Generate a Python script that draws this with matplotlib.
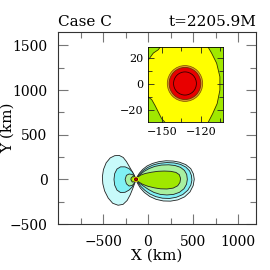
import matplotlib
matplotlib.use('Agg')
import matplotlib.pyplot as plt
from matplotlib.patches import Circle, Polygon

plt.rcParams['font.family'] = ['DejaVu Serif', 'DejaVu Sans']

title_left = "Case C"
title_right = "t=2205.9M"
x_label = "X (km)"
y_label = "Y (km)"

# colours of the filled contour levels (outer -> inner)
level_colors = ['#c8fafa', '#80f0f4', '#a8f0a0', '#a0e800']
yellow = '#ffff00'
orange = '#e0a030'
red = '#e80000'

# main panel ticks
x_major = [-500, 0, 500, 1000]
x_minor = [-750, -250, 250, 750]
y_major = [-500, 0, 500, 1000, 1500]
y_minor = [-250, 250, 750, 1250]
x_range = [-1000, 1200]
y_range = [-500, 1650]

# contour outlines (km), right lobe, outer -> inner
right_l1 = [(-135, 0), (-120, 30), (-95, 70), (-60, 110), (-10, 150), (50, 178), (120, 198), (200, 208),
            (280, 205), (350, 192), (420, 165), (475, 120), (505, 60), (514, 0), (502, -70), (467, -140),
            (407, -196), (332, -230), (250, -244), (170, -242), (90, -224), (20, -192), (-40, -147),
            (-85, -97), (-115, -47)]
right_l2 = [(-135, 0), (-118, 28), (-92, 62), (-55, 98), (0, 135), (60, 162), (130, 180), (210, 188),
            (290, 184), (360, 168), (420, 138), (462, 95), (482, 45), (488, -10), (476, -65), (442, -122),
            (387, -170), (317, -200), (240, -214), (160, -211), (85, -193), (20, -163), (-35, -123),
            (-80, -79), (-112, -38)]
right_l3 = [(-135, 0), (-115, 25), (-85, 55), (-45, 88), (10, 120), (75, 145), (150, 160), (230, 163),
            (300, 155), (360, 135), (405, 100), (430, 55), (437, 0), (428, -55), (400, -105), (350, -145),
            (285, -168), (210, -175), (135, -168), (65, -146), (5, -113), (-50, -76), (-95, -43), (-120, -18)]
right_l4 = [(-135, 0), (-115, 25), (-80, 48), (-30, 66), (40, 80), (110, 90), (180, 93), (250, 90),
            (310, 78), (348, 52), (362, 10), (355, -35), (330, -72), (280, -98), (210, -108), (140, -106),
            (70, -95), (0, -78), (-60, -55), (-105, -28)]

# left lobe, outer -> inner
left_l1 = [(-135, 0), (-160, 60), (-200, 130), (-240, 200), (-275, 245), (-320, 268), (-370, 265),
           (-420, 240), (-465, 185), (-495, 110), (-507, 30), (-502, -50), (-482, -130), (-442, -210),
           (-392, -268), (-332, -290), (-277, -280), (-232, -237), (-197, -172), (-167, -97), (-147, -42)]
left_l2 = [(-135, 0), (-150, 40), (-175, 85), (-210, 120), (-255, 140), (-305, 140), (-345, 115),
           (-370, 65), (-378, 0), (-370, -65), (-345, -120), (-305, -148), (-255, -145), (-210, -120),
           (-175, -85), (-150, -40)]
left_l3 = [(-135, 0), (-150, 35), (-175, 55), (-210, 60), (-240, 45), (-254, 0), (-240, -50),
           (-210, -75), (-175, -68), (-150, -40)]
left_l4 = [(-135, 0), (-150, 25), (-170, 32), (-188, 15), (-190, -5), (-175, -30), (-152, -28)]

center = (-133, 0)
center_dot_radius = 16

# inset
inset_x_range = [-160.8, -103]
inset_y_range = [-29, 28]
inset_x_major = [-150, -120]
inset_x_minor = [-135, -105]
inset_y_major = [-20, 0, 20]
inset_y_minor = [-10, 10]
inset_yellow = [(-105.4, 5.6), (-107.9, 15.9), (-111.8, 23.6), (-115.6, 30), (-118, 40), (-150, 40),
                (-150.2, 30), (-152.8, 26.2), (-156.7, 23.6), (-160.5, 18.5), (-170, 18), (-170, -9),
                (-161.3, -9.2), (-157.9, -11.8), (-155.4, -16.2), (-152.8, -21.3), (-150.2, -26.4),
                (-147.7, -29), (-147, -40), (-114, -40), (-114.4, -29), (-111, -22.5), (-107.5, -14.8),
                (-105.4, -4.6)]
inset_center = (-132.3, 0.5)
ring_radii = [13.6, 12.2, 8.8]

fig = plt.figure(figsize=(2.7, 2.7), dpi=100)
ax = fig.add_axes([58 / 270, (270 - 224) / 270, 198 / 270, 192 / 270])
ax.set_xlim(*x_range)
ax.set_ylim(*y_range)

for lobes, col in zip([(right_l1, left_l1), (right_l2, left_l2), (right_l3, left_l3), (right_l4, left_l4)],
                      level_colors):
    for poly in lobes:
        ax.add_patch(Polygon(poly, closed=True, facecolor=col, edgecolor='#222222', lw=0.6, joinstyle='round'))
ax.add_patch(Circle(center, 30, facecolor=yellow, edgecolor='none'))
ax.add_patch(Circle(center, center_dot_radius, facecolor=red, edgecolor='#5a0000', lw=0.8))

ax.set_xticks(x_major)
ax.set_xticks(x_minor, minor=True)
ax.set_yticks(y_major)
ax.set_yticks(y_minor, minor=True)
ax.tick_params(which='both', direction='in', top=True, right=True, color='#777777', labelsize=10)
ax.tick_params(which='major', length=7, width=0.8)
ax.tick_params(which='minor', length=4.5, width=0.8)
ax.tick_params(axis='x', pad=8)
ax.tick_params(axis='y', pad=7.5)
for s in ax.spines.values():
    s.set_color('#333333')
    s.set_linewidth(0.8)
ax.set_xlabel(x_label, fontsize=11, labelpad=0)
ax.set_ylabel(y_label, fontsize=11)
ax.yaxis.set_label_coords(-43 / 198, 0.5)
ax.set_title(title_left, loc='left', fontsize=11, pad=4)
ax.set_title(title_right, loc='right', fontsize=11, pad=4)

ins = fig.add_axes([148 / 270, (270 - 122.3) / 270, 75 / 270, 75 / 270])
ins.set_facecolor(level_colors[3])
ins.set_xlim(*inset_x_range)
ins.set_ylim(*inset_y_range)
ins.add_patch(Polygon(inset_yellow, closed=True, facecolor=yellow, edgecolor='#333300', lw=0.6))
ins.add_patch(Circle(inset_center, ring_radii[0], facecolor=orange, edgecolor='#8a5a00', lw=0.6))
ins.add_patch(Circle(inset_center, ring_radii[1], facecolor=red, edgecolor='#703000', lw=0.6))
ins.add_patch(Circle(inset_center, ring_radii[2], facecolor='none', edgecolor='#300000', lw=0.6))
ins.set_xticks(inset_x_major)
ins.set_xticks(inset_x_minor, minor=True)
ins.set_yticks(inset_y_major)
ins.set_yticks(inset_y_minor, minor=True)
ins.tick_params(which='both', direction='in', top=True, right=True, labelsize=8, color='#222222')
ins.tick_params(which='major', length=4, width=0.6)
ins.tick_params(which='minor', length=3, width=0.6)
for s in ins.spines.values():
    s.set_linewidth(0.6)

fig.savefig('out.png', dpi=100)
